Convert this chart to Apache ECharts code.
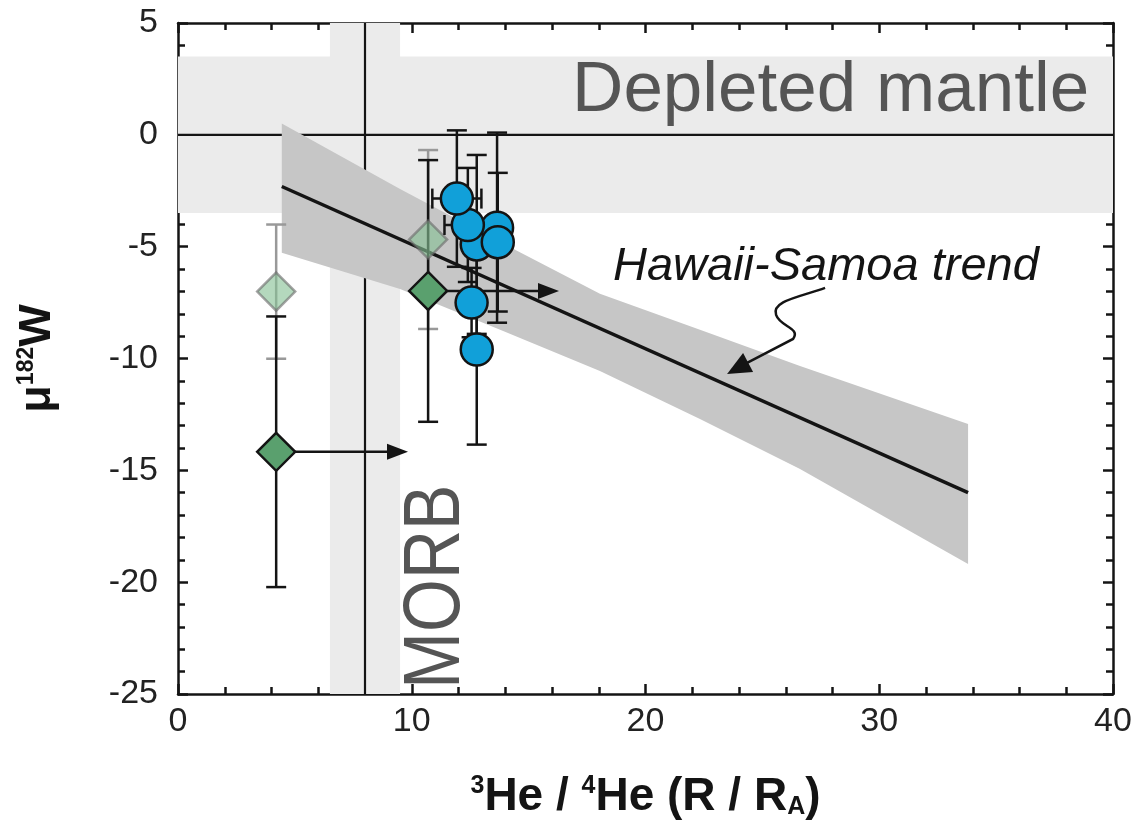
<!DOCTYPE html>
<html>
<head>
<meta charset="utf-8">
<script src="https://cdn.jsdelivr.net/npm/echarts@6/dist/echarts.min.js"></script>
<style>
html, body { margin: 0; padding: 0; background: #fff; }
#main { width: 1137px; height: 839px; }
</style>
</head>
<body>
<div id="main"></div>
<script>
// axis ranges / ticks
var xTicks = [0, 10, 20, 30, 40];
var yTicks = [-25, -20, -15, -10, -5, 0, 5];

// blue circles (x, y, +-err y, +-err x)
var circleX = [12.78, 13.65, 13.68, 12.4, 11.93, 12.56, 12.78];
var circleY = [-4.9, -4.15, -4.8, -4.03, -2.85, -7.5, -9.6];
var circleErrY = [4.0, 4.25, 3.1, 2.55, 3.05, 1.55, 4.25];
var circleErrX = [0, 0, 0, 1.0, 1.05, 0, 0];

// green diamonds, their errors and the "lower limit" arrows
var diamondX = [4.2, 10.7];
var diamondY = [-14.17, -6.98];
var diamondErr = [6.05, 5.85];
var diamondArrowTo = [9.84, 16.3];

// faded diamonds
var fadedX = [4.2, 10.7];
var fadedY = [-7.01, -4.68];
var fadedErr = [3.0, 4.0];

// Hawaii-Samoa trend line and its envelope
var trendX = [4.44, 33.8];
var trendY = [-2.31, -16.0];
var bandX = [4.44, 9.5, 13.78, 18.05, 22.33, 26.61, 33.8];
var bandUpper = [0.51, -2.42, -4.79, -7.11, -8.72, -10.34, -12.93];
var bandLower = [-5.27, -6.89, -8.72, -10.56, -12.71, -14.94, -19.19];

// reference fields
var depletedRange = [-3.5, 3.5];
var depletedValue = 0;
var morbRange = [6.5, 9.5];
var morbValue = 8;

// annotation anchors (data units)
var hawaiiArrowTip = [23.49, -10.69];

var myChart = echarts.init(document.getElementById('main'));

var INK = '#141414';
var CAP = 10;

function zip3(a, b, c) {
	var out = [];
	for (var i = 0; i < a.length; i++) out.push([a[i], b[i], c[i]]);
	return out;
}

function errYData(xs, ys, es) {
	var out = [];
	for (var i = 0; i < xs.length; i++) {
		if (es[i] > 0) out.push([xs[i], ys[i] - es[i], ys[i] + es[i]]);
	}
	return out;
}

function errXData(xs, ys, es) {
	var out = [];
	for (var i = 0; i < xs.length; i++) {
		if (es[i] > 0) out.push([xs[i] - es[i], ys[i], xs[i] + es[i]]);
	}
	return out;
}

function makeErrY(color) {
	return function (params, api) {
		var p1 = api.coord([api.value(0), api.value(2)]);
		var p2 = api.coord([api.value(0), api.value(1)]);
		var st = { stroke: color, lineWidth: 2.5 };
		return {
			type: 'group',
			children: [
				{ type: 'line', shape: { x1: p1[0], y1: p1[1], x2: p2[0], y2: p2[1] }, style: st },
				{ type: 'line', shape: { x1: p1[0] - CAP, y1: p1[1], x2: p1[0] + CAP, y2: p1[1] }, style: st },
				{ type: 'line', shape: { x1: p2[0] - CAP, y1: p2[1], x2: p2[0] + CAP, y2: p2[1] }, style: st }
			]
		};
	};
}

function renderErrX(params, api) {
	var p1 = api.coord([api.value(0), api.value(1)]);
	var p2 = api.coord([api.value(2), api.value(1)]);
	var st = { stroke: INK, lineWidth: 2.5 };
	return {
		type: 'group',
		children: [
			{ type: 'line', shape: { x1: p1[0], y1: p1[1], x2: p2[0], y2: p2[1] }, style: st },
			{ type: 'line', shape: { x1: p1[0], y1: p1[1] - CAP, x2: p1[0], y2: p1[1] + CAP }, style: st },
			{ type: 'line', shape: { x1: p2[0], y1: p2[1] - CAP, x2: p2[0], y2: p2[1] + CAP }, style: st }
		]
	};
}

// arrow from a diamond to the right
function renderArrow(params, api) {
	var p0 = api.coord([api.value(0), api.value(1)]);
	var p1 = api.coord([api.value(2), api.value(1)]);
	var head = 21, half = 8;
	return {
		type: 'group',
		children: [
			{ type: 'line', shape: { x1: p0[0] + 18, y1: p0[1], x2: p1[0] - head + 2, y2: p1[1] }, style: { stroke: INK, lineWidth: 2.5 } },
			{ type: 'polygon', shape: { points: [[p1[0], p1[1]], [p1[0] - head, p1[1] - half], [p1[0] - head, p1[1] + half]] }, style: { fill: INK } }
		]
	};
}

function renderHBand(params, api) {
	var cs = params.coordSys;
	var yTop = api.coord([0, api.value(1)])[1];
	var yBot = api.coord([0, api.value(0)])[1];
	return { type: 'rect', shape: { x: cs.x, y: yTop, width: cs.width, height: yBot - yTop }, style: { fill: '#ebebeb' } };
}

function renderVBand(params, api) {
	var cs = params.coordSys;
	var xl = api.coord([api.value(0), 0])[0];
	var xr = api.coord([api.value(1), 0])[0];
	return { type: 'rect', shape: { x: xl, y: cs.y, width: xr - xl, height: cs.height }, style: { fill: '#ebebeb' } };
}

function renderHLine(params, api) {
	var cs = params.coordSys;
	var y = api.coord([0, api.value(0)])[1];
	return { type: 'line', shape: { x1: cs.x, y1: y, x2: cs.x + cs.width, y2: y }, style: { stroke: INK, lineWidth: 2.2 } };
}

function renderVLine(params, api) {
	var cs = params.coordSys;
	var x = api.coord([api.value(0), 0])[0];
	return { type: 'line', shape: { x1: x, y1: cs.y, x2: x, y2: cs.y + cs.height }, style: { stroke: INK, lineWidth: 2.2 } };
}

function renderEnvelope(params, api) {
	var pts = [];
	for (var i = 0; i < bandX.length; i++) pts.push(api.coord([bandX[i], bandUpper[i]]));
	for (var j = bandX.length - 1; j >= 0; j--) pts.push(api.coord([bandX[j], bandLower[j]]));
	return { type: 'polygon', shape: { points: pts }, style: { fill: '#c6c6c6' } };
}

// wavy pointer for the trend label
function renderSquiggle(params, api) {
	var t = api.coord([api.value(0), api.value(1)]);
	var X = t[0], Y = t[1];
	function p(dx, dy) { return (X + dx) + ' ' + (Y + dy); }
	var d = 'M' + p(98, -86) +
		' C' + p(73, -77) + ' ' + p(44, -73) + ' ' + p(49, -59) +
		' C' + p(53, -47) + ' ' + p(74, -46) + ' ' + p(66, -35) +
		' L' + p(20, -11);
	return {
		type: 'group',
		children: [
			{ type: 'path', shape: { pathData: d }, style: { stroke: INK, lineWidth: 2.5, fill: null } },
			{ type: 'polygon', shape: { points: [[X, Y], [X + 26, Y - 2], [X + 16, Y - 21]] }, style: { fill: INK } }
		]
	};
}

var axisLineStyle = { color: INK, width: 2.5 };
var fontY = 'Liberation Sans, Arial, sans-serif';
var fontX = 'Liberation Sans Narrow, Arial Narrow, Liberation Sans, sans-serif';

var titleRich = {
	b: { fontSize: 46, fontWeight: 'bold', fontFamily: fontX, color: INK },
	sup: { fontSize: 25, fontWeight: 'bold', fontFamily: fontX, color: INK, verticalAlign: 'top' },
	sub: { fontSize: 25, fontWeight: 'bold', fontFamily: fontX, color: INK, verticalAlign: 'bottom' }
};
var yTitleRich = {
	b: { fontSize: 45, fontWeight: 'bold', fontFamily: fontY, color: INK },
	sup: { fontSize: 23, fontWeight: 'bold', fontFamily: fontX, color: INK, verticalAlign: 'top' }
};

function xAxisDef(pos) {
	return {
		type: 'value', min: xTicks[0], max: xTicks[xTicks.length - 1], interval: xTicks[1] - xTicks[0],
		position: pos,
		axisLine: { onZero: false, lineStyle: axisLineStyle },
		axisTick: { inside: true, length: 10, lineStyle: { color: INK, width: 2.5 } },
		minorTick: { show: true, splitNumber: 5, length: 7, lineStyle: { color: INK, width: 2.5 } },
		splitLine: { show: false },
		axisLabel: { show: pos === 'bottom', fontSize: 34, color: '#222', margin: 11, fontFamily: fontX }
	};
}

function yAxisDef(pos) {
	return {
		type: 'value', min: yTicks[0], max: yTicks[yTicks.length - 1], interval: yTicks[1] - yTicks[0],
		position: pos,
		axisLine: { onZero: false, lineStyle: axisLineStyle },
		axisTick: { inside: true, length: 10, lineStyle: { color: INK, width: 2.5 } },
		minorTick: { show: true, splitNumber: 5, length: 7, lineStyle: { color: INK, width: 2.5 } },
		splitLine: { show: false },
		axisLabel: { show: pos === 'left', fontSize: 34, color: '#222', margin: 20, fontFamily: fontY }
	};
}

var xBottom = xAxisDef('bottom');
xBottom.name = '{sup|3}{b|He / }{sup|4}{b|He (R / R}{sub|A}{b|)}';
xBottom.nameLocation = 'middle';
xBottom.nameGap = 80;
xBottom.nameTextStyle = { rich: titleRich };

var yLeft = yAxisDef('left');
yLeft.name = '{b|\u03bc}{sup|182}{b|W}';
yLeft.nameLocation = 'middle';
yLeft.nameGap = 118;
yLeft.nameTextStyle = { rich: yTitleRich };

var option = {
	animation: false,
	backgroundColor: '#fff',
	grid: { left: 178, right: 24, top: 23, bottom: 145 },
	xAxis: [xBottom, xAxisDef('top')],
	yAxis: [yLeft, yAxisDef('right')],
	series: [
		{ type: 'custom', name: 'Depleted mantle field', z: 1, silent: true, renderItem: renderHBand, data: [depletedRange] },
		{ type: 'custom', name: 'MORB field', z: 1, silent: true, renderItem: renderVBand, data: [morbRange] },
		{ type: 'custom', name: 'Depleted mantle', z: 2, silent: true, renderItem: renderHLine, data: [[depletedValue, 0]] },
		{ type: 'custom', name: 'MORB', z: 2, silent: true, renderItem: renderVLine, data: [[morbValue, 0]] },
		{ type: 'custom', name: 'envelope', z: 3, silent: true, renderItem: renderEnvelope, data: [[bandX[0], bandUpper[0]]] },
		{
			type: 'line', name: 'Hawaii-Samoa trend', z: 4, silent: true,
			data: [[trendX[0], trendY[0]], [trendX[1], trendY[1]]],
			showSymbol: false, symbol: 'none',
			lineStyle: { color: INK, width: 3.5 }
		},
		{ type: 'custom', name: 'faded err', z: 5, silent: true, renderItem: makeErrY('#999999'), data: errYData(fadedX, fadedY, fadedErr) },
		{ type: 'custom', name: 'diamond err', z: 5, silent: true, renderItem: makeErrY(INK), data: errYData(diamondX, diamondY, diamondErr) },
		{ type: 'custom', name: 'arrows', z: 6, silent: true, renderItem: renderArrow, data: zip3(diamondX, diamondY, diamondArrowTo) },
		{
			type: 'scatter', name: 'diamonds', z: 7, symbol: 'diamond', symbolSize: 38,
			itemStyle: { color: '#5aa06e', borderColor: INK, borderWidth: 2.5, opacity: 1 },
			data: diamondX.map(function (x, i) { return [x, diamondY[i]]; })
		},
		{
			type: 'scatter', name: 'faded', z: 7, symbol: 'diamond', symbolSize: 38,
			itemStyle: { color: '#86c094', borderColor: '#6a6a6a', borderWidth: 2.5, opacity: 0.62 },
			data: fadedX.map(function (x, i) { return [x, fadedY[i]]; })
		},
		{ type: 'custom', name: 'circle err y', z: 8, silent: true, renderItem: makeErrY(INK), data: errYData(circleX, circleY, circleErrY) },
		{ type: 'custom', name: 'circle err x', z: 8, silent: true, renderItem: renderErrX, data: errXData(circleX, circleY, circleErrX) },
		{
			type: 'scatter', name: 'circles', z: 9, symbol: 'circle', symbolSize: 32,
			itemStyle: { color: '#11a0d9', borderColor: INK, borderWidth: 2.5, opacity: 1 },
			data: circleX.map(function (x, i) { return [x, circleY[i]]; })
		},
		{ type: 'custom', name: 'pointer', z: 10, silent: true, renderItem: renderSquiggle, data: [hawaiiArrowTip] }
	]
};

myChart.setOption(option);

// text annotations placed in data units
var depPos = myChart.convertToPixel({ gridIndex: 0 }, [16.86, 1.92]);
var morbPos = myChart.convertToPixel({ gridIndex: 0 }, [11.08, -20.2]);
var hawPos = myChart.convertToPixel({ gridIndex: 0 }, [18.61, -5.91]);

myChart.setOption({
	graphic: [
		{
			type: 'text', x: depPos[0], y: depPos[1], z: 20,
			style: { text: 'Depleted mantle', font: '71px "Liberation Sans", Arial, sans-serif', fill: '#555555', align: 'left', verticalAlign: 'middle' }
		},
		{
			type: 'text', x: morbPos[0], y: morbPos[1], z: 20, rotation: Math.PI / 2, scaleX: 0.85,
			style: { text: 'MORB', font: '80px "Liberation Sans", Arial, sans-serif', fill: '#555555', align: 'center', verticalAlign: 'middle' }
		},
		{
			type: 'text', x: hawPos[0], y: hawPos[1], z: 20,
			style: { text: 'Hawaii-Samoa trend', font: 'italic 47px "Liberation Sans", Arial, sans-serif', fill: INK, align: 'left', verticalAlign: 'middle' }
		}
	]
});
</script>
</body>
</html>
